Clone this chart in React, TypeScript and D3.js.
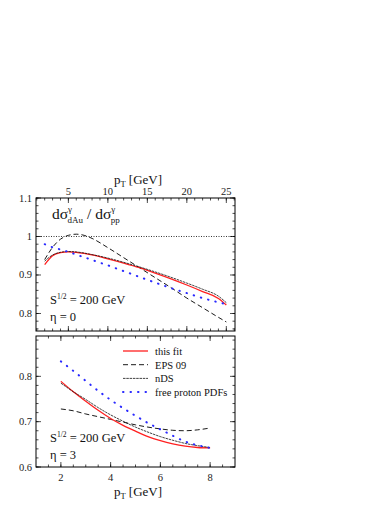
import { useEffect, useRef } from 'react'
import * as d3 from 'd3'

// top panel: eta = 0, pT 2..25
const ptTop = [2, 3, 4, 5, 6, 7, 8, 10, 12, 14, 16, 18, 20, 22, 24, 25]
const fitTop = [0.927, 0.95, 0.958, 0.96, 0.959, 0.956, 0.952, 0.942, 0.931, 0.919, 0.905, 0.89, 0.874, 0.857, 0.839, 0.822]
const epsTop = [0.94, 0.972, 0.993, 1.003, 1.006, 1.003, 0.995, 0.971, 0.945, 0.919, 0.893, 0.867, 0.84, 0.815, 0.79, 0.778]
const ndsTop = [0.936, 0.952, 0.959, 0.961, 0.96, 0.957, 0.953, 0.944, 0.933, 0.921, 0.908, 0.894, 0.879, 0.863, 0.845, 0.828]
const freeTop = [0.98, 0.972, 0.966, 0.96, 0.953, 0.946, 0.939, 0.925, 0.91, 0.895, 0.88, 0.866, 0.853, 0.84, 0.829, 0.824]

// bottom panel: eta = 3, pT 2..8
const ptBot = [2, 2.5, 3, 3.5, 4, 4.5, 5, 5.5, 6, 6.5, 7, 7.5, 8]
const fitBot = [0.789, 0.766, 0.745, 0.725, 0.707, 0.692, 0.679, 0.667, 0.658, 0.651, 0.646, 0.643, 0.642]
const epsBot = [0.728, 0.724, 0.717, 0.711, 0.705, 0.699, 0.693, 0.688, 0.684, 0.681, 0.68, 0.682, 0.686]
const ndsBot = [0.785, 0.766, 0.749, 0.731, 0.715, 0.701, 0.688, 0.677, 0.667, 0.659, 0.652, 0.647, 0.643]
const freeBot = [0.833, 0.812, 0.79, 0.768, 0.748, 0.73, 0.713, 0.697, 0.683, 0.669, 0.656, 0.648, 0.642]

const legendLabels = ['this fit', 'EPS 09', 'nDS', 'free proton PDFs']

const FONT = "'Liberation Serif', 'Times New Roman', Times, serif"

type Style = { stroke: string; width: number; dash: string | null; cap: string }
const styles: Style[] = [
  { stroke: '#ff2020', width: 1.3, dash: null, cap: 'butt' },
  { stroke: '#000', width: 0.9, dash: '5 3', cap: 'butt' },
  { stroke: '#111', width: 0.8, dash: '2.5 0.8', cap: 'butt' },
  { stroke: '#2a2aff', width: 2, dash: '0.5 7', cap: 'round' },
]

export default function App() {
  const ref = useRef<SVGSVGElement>(null)

  useEffect(() => {
    const svg = d3.select(ref.current)
    svg.selectAll('*').remove()

    const L = 36, R = 235
    const top1 = 198, bot1 = 331
    const top2 = 336, bot2 = 467

    const xTop = d3.scaleLinear().domain([0.9, 26.1]).range([L, R])
    const yTop = d3.scaleLinear().domain([0.7545, 1.1]).range([bot1, top1])
    const xBot = d3.scaleLinear().domain([1, 9]).range([L, R])
    const yBot = d3.scaleLinear().domain([0.6, 0.889]).range([bot2, top2])

    const panel = (x: d3.ScaleLinear<number, number>, y: d3.ScaleLinear<number, number>, t: number, b: number,
      xMaj: number[], xMin: number[], yMaj: number[], yMin: number[]) => {
      const g = svg.append('g')
      const tick = (x1: number, y1: number, x2: number, y2: number) =>
        g.append('line').attr('x1', x1).attr('y1', y1).attr('x2', x2).attr('y2', y2)
          .attr('stroke', '#000').attr('stroke-width', 0.7)
      xMin.forEach((v) => { tick(x(v), t, x(v), t + 2.5); tick(x(v), b, x(v), b - 2.5) })
      xMaj.forEach((v) => { tick(x(v), t, x(v), t + 5); tick(x(v), b, x(v), b - 5) })
      yMin.forEach((v) => { tick(L, y(v), L + 2.5, y(v)); tick(R, y(v), R - 2.5, y(v)) })
      yMaj.forEach((v) => { tick(L, y(v), L + 5, y(v)); tick(R, y(v), R - 5, y(v)) })
      g.append('rect').attr('x', L).attr('y', t).attr('width', R - L).attr('height', b - t)
        .attr('fill', 'none').attr('stroke', '#000').attr('stroke-width', 1)
      yMaj.forEach((v) => {
        g.append('text').attr('x', L - 4).attr('y', y(v) + 3.5).attr('text-anchor', 'end')
          .attr('font-family', FONT).attr('font-size', 10.5).attr('fill', '#222').text(String(v))
      })
      return g
    }

    const range = (a: number, b: number, s: number) => d3.range(a, b + s / 2, s).map((v) => +v.toFixed(3))

    const g1 = panel(xTop, yTop, top1, bot1, [5, 10, 15, 20, 25], range(1, 26, 1), [0.8, 0.9, 1, 1.1], range(0.76, 1.1, 0.02))
    const g2 = panel(xBot, yBot, top2, bot2, [2, 4, 6, 8], range(1.5, 8.5, 0.5), [0.6, 0.7, 0.8], range(0.6, 0.88, 0.02))

    // axis tick labels
    ;[5, 10, 15, 20, 25].forEach((v) => {
      g1.append('text').attr('x', xTop(v)).attr('y', 195).attr('text-anchor', 'middle')
        .attr('font-family', FONT).attr('font-size', 10.5).attr('fill', '#222').text(String(v))
    })
    ;[2, 4, 6, 8].forEach((v) => {
      g2.append('text').attr('x', xBot(v)).attr('y', 481).attr('text-anchor', 'middle')
        .attr('font-family', FONT).attr('font-size', 10.5).attr('fill', '#222').text(String(v))
    })

    const ptLabel = (y: number) => {
      const t = svg.append('text').attr('x', 138).attr('y', y).attr('text-anchor', 'middle')
        .attr('font-family', FONT).attr('font-size', 13).attr('fill', '#111')
      t.append('tspan').text('p')
      t.append('tspan').attr('font-size', 8.5).attr('dy', 3).text('T')
      t.append('tspan').attr('dy', -3).text(' [GeV]')
    }
    ptLabel(184)
    ptLabel(496)

    // reference line at 1
    g1.append('line').attr('x1', L).attr('x2', R).attr('y1', yTop(1)).attr('y2', yTop(1))
      .attr('stroke', '#000').attr('stroke-width', 0.8).attr('stroke-dasharray', '1 1.5')

    const draw = (g: any, x: any, y: any, xs: number[], series: number[][]) => {
      const line = d3.line<number>().x((_, i) => x(xs[i])).y((d) => y(d)).curve(d3.curveMonotoneX)
      ;[1, 0, 2, 3].forEach((k) => {
        const s = styles[k]
        g.append('path').attr('d', line(series[k])).attr('fill', 'none')
          .attr('stroke', s.stroke).attr('stroke-width', s.width)
          .attr('stroke-dasharray', s.dash).attr('stroke-linecap', s.cap)
      })
    }
    draw(g1, xTop, yTop, ptTop, [fitTop, epsTop, ndsTop, freeTop])
    draw(g2, xBot, yBot, ptBot, [fitBot, epsBot, ndsBot, freeBot])

    // panel texts
    const title = g1.append('text').attr('x', 52).attr('y', 219)
      .attr('font-family', FONT).attr('font-size', 15.5).attr('fill', '#111')
    title.append('tspan').text('dσ')
    title.append('tspan').attr('font-size', 9).attr('dy', -7).text('γ')
    title.append('tspan').attr('font-size', 9).attr('dx', -4.5).attr('dy', 11).text('dAu')
    title.append('tspan').attr('dy', -4).text(' / dσ')
    title.append('tspan').attr('font-size', 9).attr('dy', -7).text('γ')
    title.append('tspan').attr('font-size', 9).attr('dx', -4.5).attr('dy', 11).text('pp')

    const sqrtS = (g: any, y: number) => {
      const t = g.append('text').attr('x', 50).attr('y', y)
        .attr('font-family', FONT).attr('font-size', 12.5).attr('fill', '#111')
      t.append('tspan').text('S')
      t.append('tspan').attr('font-size', 7.5).attr('dy', -5.5).text('1/2')
      t.append('tspan').attr('dy', 5.5).text(' = 200 GeV')
    }
    sqrtS(g1, 304)
    g1.append('text').attr('x', 50).attr('y', 321).attr('font-family', FONT).attr('font-size', 12.5)
      .attr('fill', '#111').text('η = 0')
    sqrtS(g2, 442)
    g2.append('text').attr('x', 50).attr('y', 459).attr('font-family', FONT).attr('font-size', 12.5)
      .attr('fill', '#111').text('η = 3')

    // legend
    legendLabels.forEach((lab, i) => {
      const yy = 351 + i * 13.7
      const s = styles[i]
      g2.append('line').attr('x1', 123).attr('x2', 148).attr('y1', yy).attr('y2', yy)
        .attr('stroke', s.stroke).attr('stroke-width', s.width)
        .attr('stroke-dasharray', s.dash).attr('stroke-linecap', s.cap)
      g2.append('text').attr('x', 155).attr('y', yy + 4).attr('font-family', FONT).attr('font-size', 10.5)
        .attr('fill', '#111').text(lab)
    })
  }, [])

  return (
    <svg ref={ref} width={390} height={505}
      style={{ position: 'absolute', left: 0, top: 0, background: '#fff' }} />
  )
}
